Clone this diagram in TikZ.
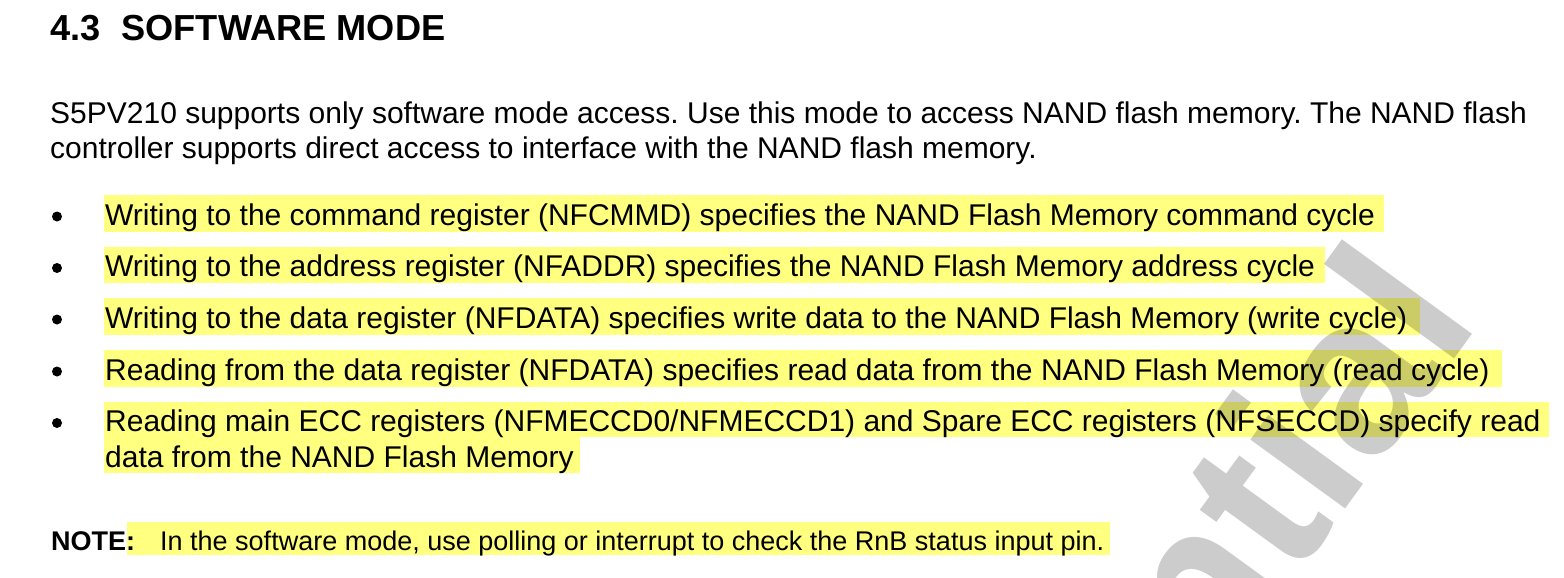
\documentclass[tikz,border=0pt]{standalone}
\usepackage{fontspec}
\setmainfont{Liberation Sans}
\usetikzlibrary{positioning}
\definecolor{hilite}{RGB}{255,255,128}
\frenchspacing
\tikzset{
  txt/.style={anchor=base west,inner sep=0pt,font=\fontsize{30}{34}\selectfont},
  note/.style={anchor=base west,inner sep=0pt,font=\fontsize{27}{32}\selectfont}
}
\begin{document}
\begin{tikzpicture}[x=1pt,y=-1pt]
		    \useasboundingbox[fill=white](0,0) rectangle (1564,578);
		    % yellow highlights
		    \fill[hilite](104,195) rectangle (1384,231.5);
		    \fill[hilite](104,246.5) rectangle (1325,283);
		    \fill[hilite](104,298) rectangle (1420,334.5);
		    \fill[hilite](104,350) rectangle (1502,386.5);
		    \fill[hilite](104,401.5) rectangle (1549,437);
		    \fill[hilite](104,437) rectangle (580,473);
		    \fill[hilite](127,521.5) rectangle (1110,555);
		    % watermark
		    \begin{scope}
		    \clip(0,0) rectangle (1564,578);
		    \node[anchor=base east,inner sep=0pt,rotate=54,opacity=.2,font=\fontsize{222}{222}\selectfont\bfseries] (wm) at (1482,322) {Confidential};
		    \end{scope}
		    \node[txt,font=\fontsize{36.2}{40}\selectfont\bfseries] (head) at (50,41) {4.3\hspace{21pt}SOFTWARE MODE};
		    \node[txt] (p1) at (50,123) {S5PV210 supports only software mode access. Use this mode to access NAND flash memory. The NAND flash};
		    \node[txt] (p2) at (50,158) {controller supports direct access to interface with the NAND flash memory.};
		    \foreach \y in {225,276.5,328,380,431.5}
		      \fill (57,\y-8.5) circle (5);
		    \node[txt] (b1) at (105,225) {Writing to the command register (NFCMMD) specifies the NAND Flash Memory command cycle};
		    \node[txt] (b2) at (105,276.5) {Writing to the address register (NFADDR) specifies the NAND Flash Memory address cycle};
		    \node[txt] (b3) at (105,328) {Writing to the data register (NFDATA) specifies write data to the NAND Flash Memory (write cycle)};
		    \node[txt] (b4) at (105,380) {Reading from the data register (NFDATA) specifies read data from the NAND Flash Memory (read cycle)};
		    \node[txt] (b5) at (105,431.5) {Reading main ECC registers (NFMECCD0/NFMECCD1) and Spare ECC registers (NFSECCD) specify read};
		    \node[txt] (b5b) at (105,467) {data from the NAND Flash Memory};
		    \node[note,font=\fontsize{27}{32}\selectfont\bfseries] (nt) at (51,550) {NOTE:};
		    \node[note] (ntx) at (160,550) {In the software mode, use polling or interrupt to check the RnB status input pin.};
		\end{tikzpicture}
\end{document}
